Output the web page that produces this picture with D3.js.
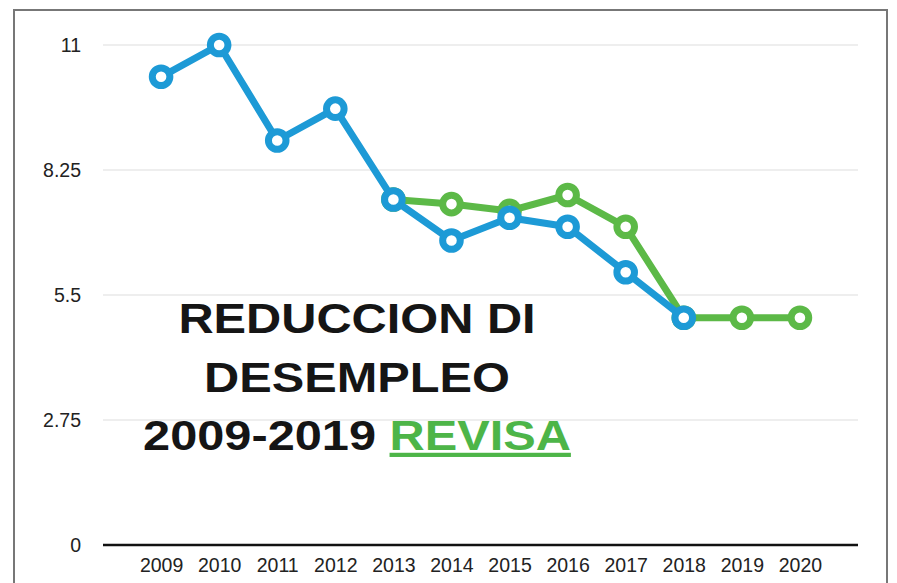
<!DOCTYPE html>
<html>
<head>
<meta charset="utf-8">
<script src="https://cdn.jsdelivr.net/npm/d3@7"></script>
<style>
  body { margin: 0; background: #fff; }
  svg { display: block; font-family: "Liberation Sans", Arial, sans-serif; }
</style>
</head>
<body>
<div id="chart"></div>
<script>
const years = ["2009", "2010", "2011", "2012", "2013", "2014", "2015", "2016", "2017", "2018", "2019", "2020"];
const blueValues = [10.3, 11.0, 8.9, 9.6, 7.6, 6.7, 7.2, 7.0, 6.0, 5.0, null, null];
const greenValues = [null, null, null, null, 7.6, 7.5, 7.35, 7.7, 7.0, 5.0, 5.0, 5.0];
const yTicks = [0, 2.75, 5.5, 8.25, 11];
const titleLines = ["REDUCCION DI", "DESEMPLEO"];

const width = 897, height = 583;
const plotLeft = 103, plotRight = 858, plotTop = 45, plotBottom = 545;
const stretch = 1.16; // title lettering in the picture is wide

const svg = d3.select("#chart")
    .append("svg")
    .attr("width", width)
    .attr("height", height);

// frame
svg.append("path")
    .attr("d", `M14,${height} V10 H887 V${height}`)
    .attr("fill", "none")
    .attr("stroke", "#777")
    .attr("stroke-width", 2);

const x = d3.scalePoint().domain(years).range([plotLeft, plotRight]).padding(1);
const y = d3.scaleLinear().domain([0, 11]).range([plotBottom, plotTop]);

// gridlines
svg.append("g")
    .selectAll("line")
    .data(yTicks.filter(d => d > 0))
    .join("line")
    .attr("x1", plotLeft)
    .attr("x2", plotRight)
    .attr("y1", d => y(d))
    .attr("y2", d => y(d))
    .attr("stroke", "#ddd")
    .attr("stroke-width", 1);

// y axis labels
const yAxis = svg.append("g")
    .attr("transform", `translate(${plotLeft},0)`)
    .attr("font-size", 19.5)
    .call(d3.axisLeft(y).tickValues(yTicks).tickSize(0).tickPadding(22).tickFormat(d => d));
yAxis.attr("font-size", 19.5).attr("font-family", "Liberation Sans, Arial, sans-serif");
yAxis.select(".domain").remove();
yAxis.selectAll("text").attr("fill", "#222");

// x axis
const xAxis = svg.append("g")
    .attr("transform", `translate(0,${plotBottom})`)
    .call(d3.axisBottom(x).tickSize(0).tickPadding(13));
xAxis.attr("font-size", 19.5).attr("font-family", "Liberation Sans, Arial, sans-serif");
xAxis.select(".domain")
    .attr("d", `M${plotLeft},0H${plotRight}`)
    .attr("stroke", "#111")
    .attr("stroke-width", 2.5);
xAxis.selectAll("text").attr("fill", "#222");

// title
const title = svg.append("g")
    .attr("font-weight", "bold")
    .attr("font-size", "42px")
    .attr("text-anchor", "middle")
    .attr("transform", `translate(357,0) scale(${stretch},1)`);
titleLines.forEach((t, i) => {
    title.append("text")
        .attr("x", 0)
        .attr("y", 333 + i * 59)
        .attr("fill", "#151515")
        .text(t);
});
const last = title.append("text")
    .attr("x", 0)
    .attr("y", 450)
    .attr("fill", "#151515");
last.append("tspan").text("2009-2019 ");
last.append("tspan").attr("fill", "#4db548").attr("text-decoration", "underline").text("REVISA");

function drawSeries(values, color) {
    const pts = years.map((yr, i) => [yr, values[i]]).filter(d => d[1] != null);
    const line = d3.line().x(d => x(d[0])).y(d => y(d[1]));
    svg.append("path")
        .datum(pts)
        .attr("d", line)
        .attr("fill", "none")
        .attr("stroke", color)
        .attr("stroke-width", 7)
        .attr("stroke-linejoin", "round");
    svg.append("g")
        .selectAll("circle")
        .data(pts)
        .join("circle")
        .attr("cx", d => x(d[0]))
        .attr("cy", d => y(d[1]))
        .attr("r", 8.8)
        .attr("fill", "#fff")
        .attr("stroke", color)
        .attr("stroke-width", 7);
}

drawSeries(greenValues, "#5cb947");
drawSeries(blueValues, "#1d9ad6");
</script>
</body>
</html>
